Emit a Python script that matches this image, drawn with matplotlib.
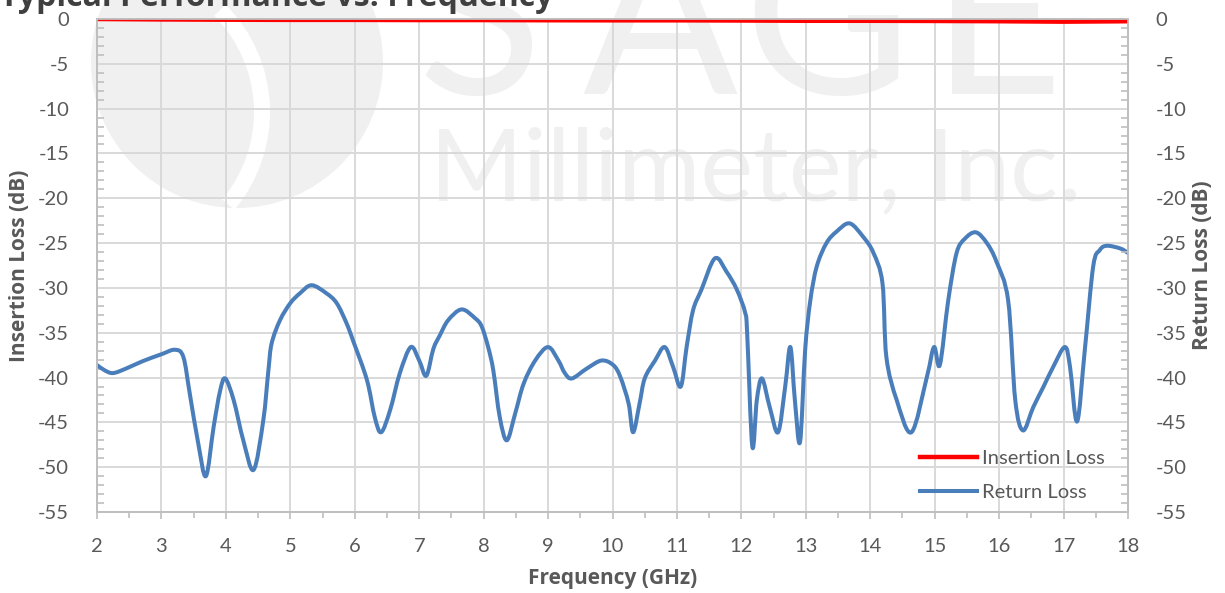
import matplotlib
matplotlib.use("Agg")
import matplotlib.pyplot as plt
from matplotlib.patches import Circle, Wedge, PathPatch
from matplotlib.path import Path
from matplotlib.lines import Line2D
from matplotlib.ticker import MultipleLocator

plt.rcParams["axes.unicode_minus"] = False

# ---- data ----
freq_rl = [2.0, 2.12, 2.25, 2.45, 2.7, 3.0, 3.21, 3.34, 3.44, 3.57, 3.69, 3.81, 3.91, 3.99,
           4.12, 4.27, 4.43, 4.58, 4.66, 4.71, 4.84, 5.0, 5.15, 5.33, 5.56, 5.72, 5.87, 5.98,
           6.19, 6.31, 6.41, 6.55, 6.70, 6.87, 7.0, 7.11, 7.22, 7.32, 7.45, 7.66, 7.87, 7.97,
           8.07, 8.15, 8.25, 8.36, 8.49, 8.62, 8.80, 9.0, 9.16, 9.26, 9.37, 9.60, 9.83, 10.01,
           10.12, 10.25, 10.32, 10.42, 10.5, 10.66, 10.81, 10.94, 11.06, 11.15, 11.25, 11.38,
           11.59, 11.77, 11.93, 12.06, 12.09, 12.17, 12.24, 12.32, 12.44, 12.57, 12.68, 12.76,
           12.83, 12.91, 12.99, 13.07, 13.17, 13.32, 13.48, 13.68, 13.89, 14.05, 14.19, 14.25,
           14.41, 14.64, 14.88, 14.99, 15.08, 15.21, 15.34, 15.47, 15.64, 15.81, 15.96, 16.14,
           16.25, 16.37, 16.53, 16.69, 16.84, 17.02, 17.10, 17.21, 17.33, 17.46, 17.56, 17.67,
           17.88, 18.0]
return_loss = [-38.6, -39.2, -39.5, -39.0, -38.2, -37.4, -36.9, -37.7, -41.8, -47.3, -51.0, -45.5, -41.5, -40.1,
               -42.5, -47.0, -50.3, -44.8, -39.2, -36.2, -33.6, -31.7, -30.6, -29.7, -30.6, -31.7, -33.9, -36.0,
               -40.3, -44.4, -46.1, -43.6, -39.5, -36.6, -38.1, -39.8, -36.8, -35.3, -33.6, -32.4, -33.4, -34.3,
               -36.6, -39.2, -44.4, -47.0, -44.0, -40.7, -38.1, -36.6, -38.1, -39.5, -40.1, -39.0, -38.1, -38.6,
               -39.9, -42.9, -46.1, -42.9, -40.1, -38.1, -36.6, -38.8, -41.0, -36.6, -32.5, -30.2,
               -26.7, -28.2, -30.2, -32.8, -35.1, -47.7, -42.5, -40.1, -43.3, -46.1, -41.0, -36.6,
               -42.5, -47.2, -36.9, -31.4, -27.6, -25.0, -23.7, -22.8, -24.3, -26.1, -29.5, -37.7,
               -42.5, -46.1, -39.9, -36.6, -38.6, -31.4, -26.1, -24.5, -23.8, -25.0, -27.1, -31.4,
               -42.5, -45.9, -43.3, -41.0, -38.8, -36.6, -38.8, -44.9, -36.9, -27.6, -25.8, -25.3,
               -25.6, -26.1]

freq_il = [2, 3, 4, 5, 6, 7, 8, 9, 10, 11, 12, 13, 14, 15, 16, 17, 18]
insertion_loss = [0.0, -0.05, -0.08, -0.1, -0.1, -0.12, -0.12, -0.14, -0.15, -0.15, -0.17,
                  -0.2, -0.2, -0.22, -0.25, -0.3, -0.25]

x_ticks = list(range(2, 19))
y_ticks = list(range(-55, 1, 5))

title = "Typical Performance vs. Frequency"
x_label = "Frequency (GHz)"
y_left_label = "Insertion Loss (dB)"
y_right_label = "Return Loss (dB)"
legend_labels = ["Insertion Loss", "Return Loss"]
watermark_letters = ["S", "A", "G", "E"]
watermark_sub = "Millimeter, Inc."


def smooth_path(xs, ys):
    """Excel-style smoothed line: cubic Bezier through every data point."""
    n = len(xs)
    verts = [(xs[0], ys[0])]
    codes = [Path.MOVETO]
    for i in range(n - 1):
        x0, y0 = (xs[i - 1], ys[i - 1]) if i > 0 else (xs[i], ys[i])
        x1, y1 = xs[i], ys[i]
        x2, y2 = xs[i + 1], ys[i + 1]
        x3, y3 = (xs[i + 2], ys[i + 2]) if i + 2 < n else (x2, y2)
        c1 = (x1 + (x2 - x0) / 6.0, y1 + (y2 - y0) / 6.0)
        c2 = (x2 - (x3 - x1) / 6.0, y2 - (y3 - y1) / 6.0)
        verts += [c1, c2, (x2, y2)]
        codes += [Path.CURVE4] * 3
    return Path(verts, codes)


# ---- figure ----
W, H = 1225, 593
fig = plt.figure(figsize=(W / 100, H / 100), dpi=100)
fig.patch.set_facecolor("white")

font = "Lato"
bold_font = "Open Sans"
tick_color = "#595959"
grid_color = "#d9d9d9"
spine_color = "#bfbfbf"
wm_color = "#f0f0f0"
blue = "#4a7ebb"
red = "#ff0000"

# watermark (figure pixel space, behind the axes)
wm = fig.add_axes([0, 0, 1, 1], zorder=0)
wm.set_xlim(0, W)
wm.set_ylim(H, 0)
wm.axis("off")
wm.add_patch(Circle((237, 62), 146, color=wm_color, lw=0))
wm.add_patch(Wedge((118, 112), 152, -45, 40, width=16, color="white", lw=0))
for letter, xc in zip(watermark_letters, [480, 660, 827, 997]):
    wm.text(xc, 94, letter, fontsize=165, color=wm_color, family="Lato",
            ha="center", va="baseline")
wm.text(756, 200, watermark_sub, fontsize=72, color=wm_color, family="Lato",
        ha="center", va="baseline")

left, right = 97 / W, 1128 / W
bottom, top = 1 - 512 / H, 1 - 19 / H
ax = fig.add_axes([left, bottom, right - left, top - bottom], zorder=2)
ax.patch.set_alpha(0)
ax2 = ax.twinx()

for a in (ax, ax2):
    a.set_ylim(-55, 0)
    a.set_yticks(y_ticks)
    a.yaxis.set_minor_locator(MultipleLocator(1))
    for s in a.spines.values():
        s.set_color(spine_color)
        s.set_linewidth(1.3)

ax.set_xlim(2, 18)
ax.set_xticks(x_ticks)
ax.xaxis.set_minor_locator(MultipleLocator(0.5))
ax.grid(True, which="major", color=grid_color, linewidth=1.4)
ax.set_axisbelow(True)

fs = 14.5
ax.tick_params(axis="y", which="major", length=0, pad=20, labelsize=fs, labelcolor=tick_color)
ax.tick_params(axis="y", which="minor", direction="in", length=5, color=spine_color, width=1.2)
ax2.tick_params(axis="y", which="major", length=0, pad=20, labelsize=fs, labelcolor=tick_color)
ax2.tick_params(axis="y", which="minor", direction="in", length=5, color=spine_color, width=1.2)
ax.tick_params(axis="x", which="major", direction="out", length=5, color=spine_color, width=1.2,
               pad=14, labelsize=fs, labelcolor=tick_color)
ax.tick_params(axis="x", which="minor", direction="out", length=4, color=spine_color, width=1.2)

for lab in ax.get_xticklabels() + ax.get_yticklabels() + ax2.get_yticklabels():
    lab.set_family(font)

ax.plot(freq_il, insertion_loss, color=red, linewidth=3.2,
        solid_capstyle="round", solid_joinstyle="round", zorder=3)
ax.add_patch(PathPatch(smooth_path(freq_rl, return_loss), facecolor="none", edgecolor=blue,
                       linewidth=2.9, capstyle="round", joinstyle="round", zorder=3))

lab_fs = 15
ax.set_xlabel(x_label, fontsize=lab_fs, fontweight="bold", color=tick_color, family=bold_font,
              labelpad=9)
ax.set_ylabel(y_left_label, fontsize=lab_fs, fontweight="bold", color=tick_color, family=bold_font,
              labelpad=6)
ax2.set_ylabel(y_right_label, fontsize=lab_fs, fontweight="bold", color=tick_color, family=bold_font,
               rotation=90, labelpad=4)

handles = [Line2D([], [], color=red, linewidth=3.2), Line2D([], [], color=blue, linewidth=2.9)]
leg = ax.legend(handles=handles, labels=legend_labels, loc="lower right",
                bbox_to_anchor=(0.985, 0.005), frameon=False,
                prop={"family": font, "size": fs}, handlelength=2.8, handletextpad=0.25,
                labelspacing=0.85, borderaxespad=0)
for t in leg.get_texts():
    t.set_color(tick_color)

fig.text(0.0, 1.0 - 6 / H, title, fontsize=23, fontweight="bold", color="#404040", family=bold_font,
         ha="left", va="baseline")

fig.savefig("out.png", dpi=100, facecolor="white")
